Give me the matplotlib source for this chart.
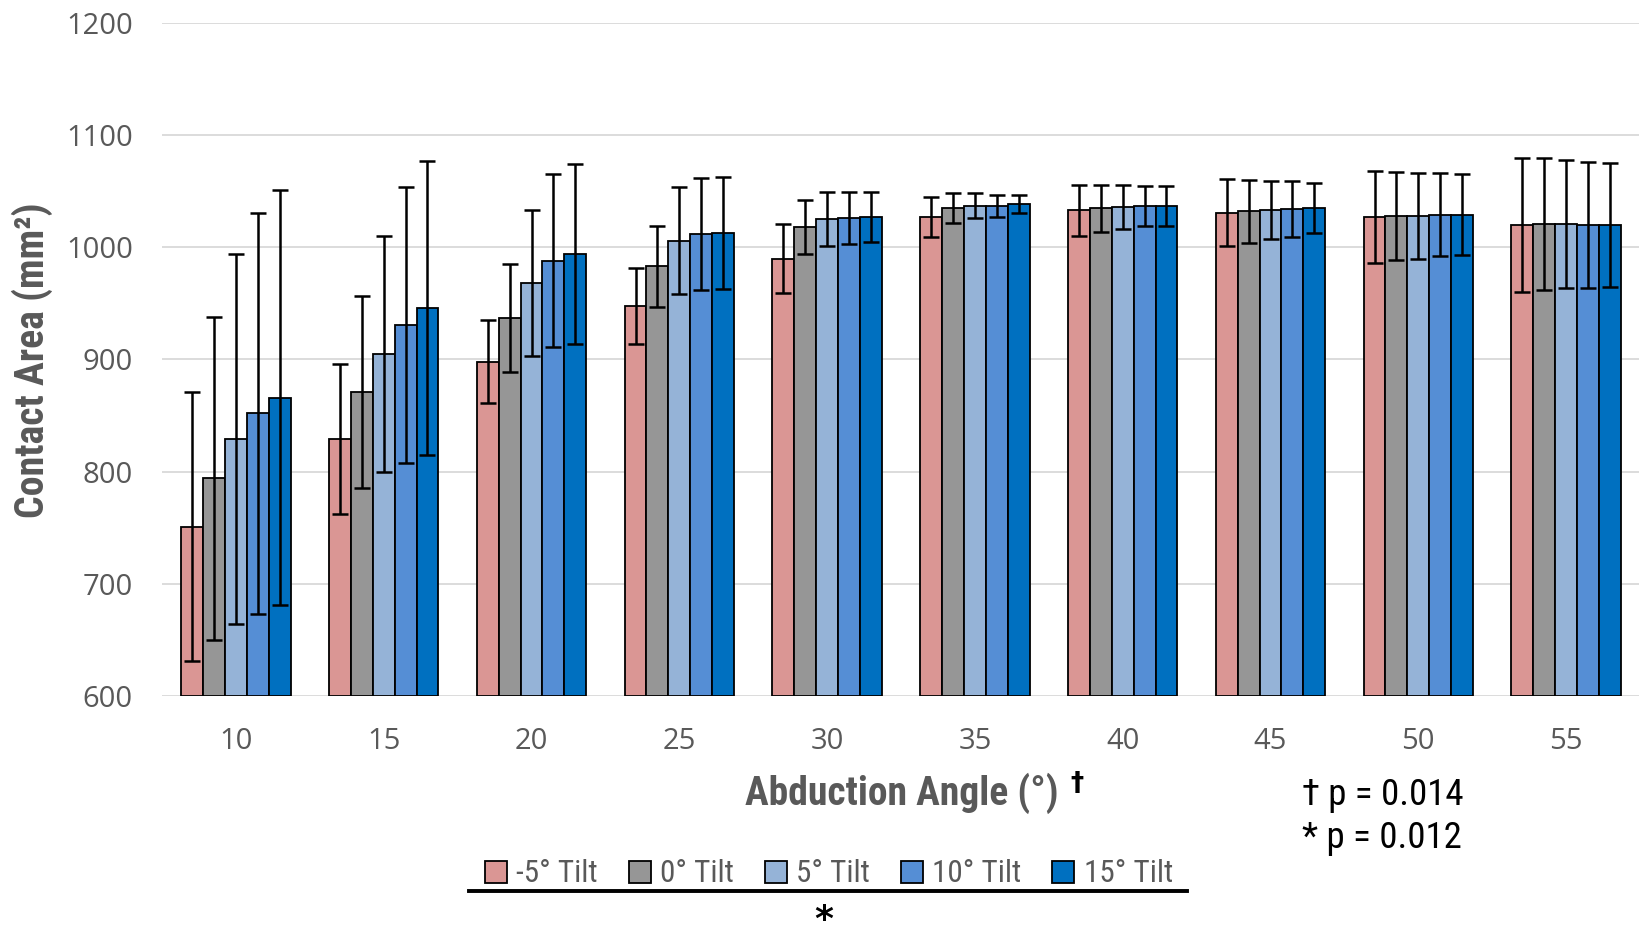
import matplotlib
matplotlib.use("Agg")
import matplotlib.pyplot as plt
import numpy as np
from matplotlib.patches import Patch
from matplotlib.lines import Line2D
from matplotlib import font_manager as fm

angles = ["10", "15", "20", "25", "30", "35", "40", "45", "50", "55"]
series = ["-5° Tilt", "0° Tilt", "5° Tilt", "10° Tilt", "15° Tilt"]
colors = ["#DA9694", "#969696", "#95B3D7", "#558ED5", "#0070C0"]

tilt_m5 = [751, 829, 898, 948, 990, 1027, 1033, 1031, 1027, 1020]
tilt_0 = [794, 871, 937, 983, 1018, 1035, 1035, 1032, 1028, 1021]
tilt_5 = [829, 905, 968, 1006, 1025, 1037, 1036, 1033, 1028, 1021]
tilt_10 = [852, 931, 988, 1012, 1026, 1037, 1037, 1034, 1029, 1020]
tilt_15 = [866, 946, 994, 1013, 1027, 1039, 1037, 1035, 1029, 1020]

err_m5 = [120, 67, 37, 34, 31, 18, 23, 30, 41, 60]
err_0 = [144, 86, 48, 36, 24, 13, 21, 28, 39, 59]
err_5 = [165, 105, 65, 48, 24, 11, 20, 26, 38, 57]
err_10 = [179, 123, 77, 50, 23, 10, 18, 25, 37, 56]
err_15 = [185, 131, 80, 50, 22, 8, 18, 22, 36, 55]

values = [tilt_m5, tilt_0, tilt_5, tilt_10, tilt_15]
errors = [err_m5, err_0, err_5, err_10, err_15]

# pick a condensed font if one is installed
names = sorted({f.name for f in fm.fontManager.ttflist})
cond = None
for cand in ["Liberation Sans Narrow", "Roboto Condensed", "Open Sans Condensed",
             "Noto Sans Condensed", "DejaVu Sans Condensed"]:
    if cand in names:
        cond = cand
        break
if cond is None:
    for n in names:
        if ("Narrow" in n or "Condensed" in n) and "CJK" not in n:
            cond = n
            break
if cond is not None:
    title_font = [cond, "DejaVu Sans"]
    stretch = "normal"
else:
    title_font = ["DejaVu Sans"]
    stretch = "condensed"

W, H = 1640, 934
fig = plt.figure(figsize=(16.4, 9.34), dpi=100)
ax = fig.add_axes([162 / W, 1 - 696 / H, (W - 162) / W, (696 - 23) / H])

tick_font = "Open Sans"
gray = "#595959"

x = np.arange(len(angles))
bw = 0.148
for i, (vals, errs, c) in enumerate(zip(values, errors, colors)):
    pos = x + (i - 2) * bw
    ax.bar(pos, np.array(vals) - 600, bottom=600, width=bw, color=c,
           edgecolor="black", linewidth=1.3, zorder=3)
    ax.errorbar(pos, vals, yerr=errs, fmt="none", ecolor="black",
                elinewidth=1.8, capsize=6, capthick=1.8, zorder=4)

ax.set_ylim(600, 1200)
ax.set_xlim(-0.5, 9.5)
ax.set_yticks(range(600, 1201, 100))
ax.set_xticks(x)
ax.set_xticklabels(angles)
for s in ax.spines.values():
    s.set_visible(False)
ax.yaxis.grid(True, color="#D9D9D9", linewidth=1.3, zorder=0)
ax.set_axisbelow(True)
ax.tick_params(axis="both", length=0, labelcolor=gray, labelsize=21)
ax.tick_params(axis="y", pad=21)
ax.tick_params(axis="x", pad=22)
for lab in ax.get_xticklabels() + ax.get_yticklabels():
    lab.set_fontfamily(tick_font)

def px(xp, yp):
    return xp / W, 1 - yp / H

renderer = fig.canvas.get_renderer()

def fit(t, target_px, horizontal=True):
    bb = t.get_window_extent(renderer)
    cur = bb.width if horizontal else bb.height
    t.set_fontsize(t.get_fontsize() * target_px / cur)

ylab = fig.text(*px(32, 360), "Contact Area (mm²)", rotation=90, ha="center", va="center",
                fontsize=27, fontweight="bold", color=gray, family=title_font,
                fontstretch=stretch)
fit(ylab, 316, horizontal=False)
xlab = fig.text(*px(902, 793), "Abduction Angle (°)", ha="center", va="center",
                fontsize=27, fontweight="bold", color=gray, family=title_font,
                fontstretch=stretch)
fit(xlab, 314)
fig.text(*px(1077, 784), "†", ha="center", va="center",
         fontsize=19, fontweight="bold", color="black", family="DejaVu Sans")
p1 = fig.text(*px(1302, 795), "† p = 0.014", ha="left", va="center",
              fontsize=25, color="black", family=title_font, fontstretch=stretch)
fit(p1, 162)
p2 = fig.text(*px(1302, 838), "* p = 0.012", ha="left", va="center",
              fontsize=p1.get_fontsize(), color="black", family=title_font,
              fontstretch=stretch)

handles = [Patch(facecolor=c, edgecolor="black", linewidth=1.3) for c in colors]

def make_legend(size):
    lg = fig.legend(handles, series, loc="center", bbox_to_anchor=px(829, 874),
                    ncol=5, frameon=False, handlelength=0.7, handleheight=0.7,
                    handletextpad=0.3, columnspacing=1.0,
                    prop={"family": title_font, "size": size, "stretch": stretch})
    for t in lg.get_texts():
        t.set_color(gray)
    return lg

leg = make_legend(24)
w = leg.get_window_extent(renderer).width
leg.remove()
leg = make_legend(24 * 712 / w)

fig.add_artist(Line2D([469 / W, 1187 / W], [1 - 891 / H, 1 - 891 / H],
                      color="black", linewidth=2.8))
fig.text(*px(824, 903), "*", ha="center", va="top", fontsize=26,
         fontweight="bold", color="black", family="DejaVu Sans")

fig.savefig("out.png", dpi=100)
